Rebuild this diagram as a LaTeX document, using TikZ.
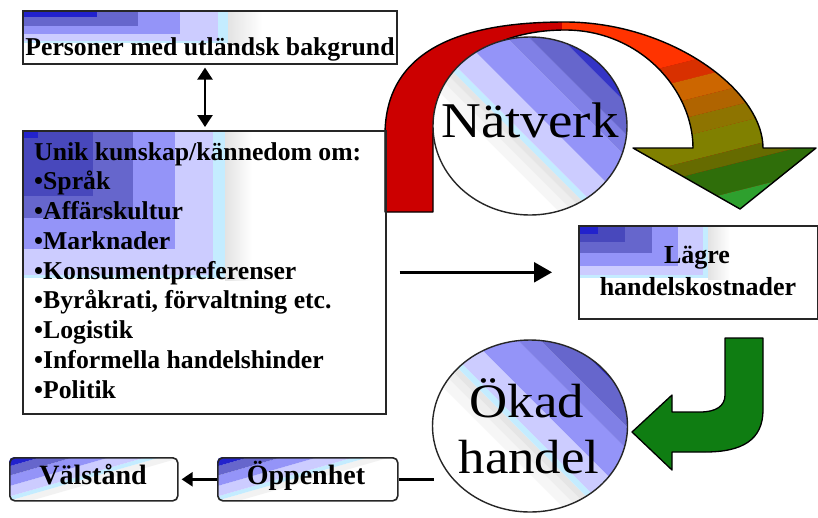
\documentclass[tikz,border=0pt]{standalone}
\usepackage{fontspec}
\setmainfont{Liberation Serif}
\newfontfamily\boxfont{Liberation Serif}
\newfontfamily\circfont[FakeStretch=1.1]{Liberation Serif}
\newfontfamily\rbfont{Liberation Serif}
\usetikzlibrary{shapes.geometric,arrows.meta}
\definecolor{bA}{HTML}{2222CC}
\definecolor{bB}{HTML}{4848BC}
\definecolor{bC}{HTML}{6666CC}
\definecolor{bD}{HTML}{9494F8}
\definecolor{bDD}{HTML}{8080E6}
\definecolor{bE}{HTML}{CCCCFF}
\definecolor{cyanL}{HTML}{C4ECFF}
\definecolor{cA}{HTML}{3434C6}
\definecolor{rDark}{HTML}{CC0000}
\definecolor{g0}{HTML}{FF3300}
\definecolor{g1}{HTML}{D83000}
\definecolor{g2}{HTML}{CC6600}
\definecolor{g3}{HTML}{B06400}
\definecolor{g4}{HTML}{8E7400}
\definecolor{g5}{HTML}{808000}
\definecolor{g6}{HTML}{666B00}
\definecolor{g7}{HTML}{2F6E0A}
\definecolor{g8}{HTML}{2EA02E}
\definecolor{hook}{HTML}{0F7D12}
\newcommand\circstripes{%
 \fill[gray!7] (-40,-200) rectangle (-30,200);
 \fill[gray!13] (-30,-200) rectangle (-22,200);
 \fill[gray!20] (-22,-200) rectangle (-16,200);
 \fill[cyanL] (-16,-200) rectangle (-10,200);
 \fill[bE] (-10,-200) rectangle (14,200);
 \fill[bD] (14,-200) rectangle (46,200);
 \fill[bDD] (46,-200) rectangle (62,200);
 \fill[bC] (62,-200) rectangle (84,200);
 \fill[cA] (84,-200) rectangle (200,200);}
\newcommand\roundstripes{%
 \fill[gray!10] (-48,-300) rectangle (-42,300);
 \fill[cyanL] (-42,-300) rectangle (-38,300);
 \fill[bE] (-38,-300) rectangle (-28,300);
 \fill[bD] (-28,-300) rectangle (-18,300);
 \fill[bC] (-18,-300) rectangle (-9,300);
 \fill[bA] (-9,-300) rectangle (20,300);}
\begin{document}
\begin{tikzpicture}[x=1pt,y=-1pt,
  frame/.style={draw=black!85, line width=1.6pt, inner sep=0pt, anchor=north west},
  rframe/.style={frame, rounded corners=5pt},
  circ/.style={draw=black!85, line width=1.4pt, ellipse, inner sep=0pt},
  txt/.style={inner sep=0pt, font=\boxfont\bfseries\fontsize{25.7}{30}\selectfont},
  ltxt/.style={inner sep=0pt, font=\boxfont\bfseries\fontsize{26}{30}\selectfont},
  btxt/.style={inner sep=0pt, font=\rbfont\bfseries\fontsize{28}{30}\selectfont},
  ctxt/.style={inner sep=0pt, font=\circfont\fontsize{50}{50}\selectfont},
  otxt/.style={inner sep=0pt, font=\circfont\fontsize{48}{50}\selectfont},
  conn/.style={draw=black, line width=2.4pt},
  outline/.style={draw=black, line width=1.4pt, line join=round}]
\useasboundingbox (0,0) rectangle (818,517);
\fill[white] (0,0) rectangle (818,517);

% ---------- big arch arrow ----------
\def\archpath{(385,212) -- (385,135) .. controls (385,45) and (470,22) .. (565,22) .. controls (670,22) and (763,90) .. (763,148) -- (816,148) -- (740,209) -- (633,148) -- (693,148) .. controls (693,90) and (640,30) .. (565,30) .. controls (490,30) and (433,70) .. (433,140) -- (433,212) -- cycle}
\fill[rDark] \archpath;
\begin{scope}
 \clip \archpath;
 \foreach \c/\a/\b in {g0/-200/58, g1/58/76, g2/76/96, g3/96/114, g4/114/132, g5/132/158, g6/158/172, g7/172/200, g8/200/320}
   \fill[\c] (562,\a+35) -- (820,\a-30) -- (820,\b-30) -- (562,\b+35) -- cycle;
\end{scope}
\draw[outline] \archpath;

% ---------- Natverk circle ----------
\begin{scope}
 \clip (530,126) ellipse [x radius=97, y radius=89];
 \fill[white] (400,0) rectangle (660,260);
 \begin{scope}[shift={(530,126)}, rotate=45]\circstripes\end{scope}
\end{scope}
\node[circ, minimum width=194pt, minimum height=178pt] (natverk) at (530,126) {};
\node[ctxt, anchor=base] (nattext) at (530,137) {Nätverk};

% ---------- Personer box ----------
\shade[left color=gray!22, right color=white] (228,10) rectangle (262,45);
\fill[cyanL] (22,10) rectangle (228,43);
\fill[bE] (22,10) rectangle (218,41);
\fill[bD] (22,10) rectangle (180,34);
\fill[bC] (22,10) rectangle (138,26);
\fill[bA] (22,10) rectangle (97,17);
\node[frame, minimum width=374pt, minimum height=53pt] (pers) at (22,10) {};
\node[txt, anchor=base] (perstext) at (210,55) {Personer med utländsk bakgrund};

% ---------- list box ----------
\shade[left color=gray!22, right color=white] (225,130) rectangle (252,280);
\fill[cyanL] (22,130) rectangle (225,278);
\fill[bE] (22,130) rectangle (213,275);
\fill[bD] (22,130) rectangle (175,249);
\fill[bC] (22,130) rectangle (133,218);
\fill[bB] (22,130) rectangle (93,196);
\fill[bA] (22,130) rectangle (38,138);
\node[frame, minimum width=363pt, minimum height=283pt] (list) at (22,130) {};
\foreach \txtline [count=\i from 0] in {Unik kunskap/kännedom om:, •Språk, •Affärskultur, •Marknader, •Konsumentpreferenser, {•Byråkrati, förvaltning etc.}, •Logistik, •Informella handelshinder, •Politik}
  \node[txt, anchor=base west] (item\i) at (34,160+29.75*\i) {\txtline};

% ---------- Lagre box ----------
\shade[left color=gray!22, right color=white] (708,225) rectangle (730,279);
\fill[cyanL] (578,225) rectangle (708,278);
\fill[bE] (578,225) rectangle (703,275);
\fill[bD] (578,225) rectangle (678,266);
\fill[bC] (578,225) rectangle (652,253);
\fill[bB] (578,225) rectangle (625,242);
\fill[bA] (578,225) rectangle (598,234);
\node[frame, minimum width=239pt, minimum height=93pt] (lagre) at (578,225) {};
\node[ltxt, anchor=base] (lag1) at (697,263) {Lägre};
\node[ltxt, anchor=base] (lag2) at (698,295) {handelskostnader};

% ---------- green hook arrow ----------
\fill[hook, draw=black, line width=1.3pt, line join=round]
  (725,338) -- (763,338) -- (763,410) .. controls (763,440) and (742,452) .. (705,452)
  -- (672,452) -- (672,470) -- (632,432) -- (672,395) -- (672,412) -- (700,412)
  .. controls (716,412) and (725,406) .. (725,395) -- cycle;

% ---------- Okad circle ----------
\begin{scope}
 \clip (530,426) ellipse [x radius=97.5, y radius=86];
 \fill[white] (400,320) rectangle (660,560);
 \begin{scope}[shift={(530,426)}, rotate=45, xshift=6pt]\circstripes\end{scope}
\end{scope}
\node[circ, minimum width=195pt, minimum height=172pt] (okad) at (530,426) {};
\node[otxt, anchor=base] (okad1) at (527,417) {Ökad};
\node[otxt, anchor=base] (okad2) at (529,473) {handel};

% ---------- bottom boxes ----------
\begin{scope}
 \clip[rounded corners=5pt] (9,457) rectangle (177,500);
 \begin{scope}[shift={(9,457)}, rotate=106]\roundstripes\end{scope}
\end{scope}
\node[rframe, minimum width=168pt, minimum height=43pt] (valst) at (9,457) {};
\node[btxt, anchor=base] (valtext) at (93,484) {Välstånd};
\begin{scope}
 \clip[rounded corners=5pt] (217,457) rectangle (397,500);
 \begin{scope}[shift={(217,457)}, rotate=106]\roundstripes\end{scope}
\end{scope}
\node[rframe, minimum width=180pt, minimum height=43pt] (oppen) at (217,457) {};
\node[btxt, anchor=base] (opptext) at (306,484) {Öppenhet};

% ---------- connectors ----------
\coordinate (dbx) at (205,0);
\draw[conn, {Triangle[width=15pt,length=12pt]}-{Triangle[width=15pt,length=12pt]}]
  ([yshift=-3pt]pers.south -| dbx) -- ([yshift=3pt]list.north -| dbx);
\draw[conn, -{Triangle[width=20pt,length=18pt]}]
  ([xshift=13pt]list.east) -- ([xshift=-26pt]lagre.west);
\draw[conn, -{Triangle[width=14pt,length=11pt]}]
  (oppen.west) -- ([xshift=3pt]valst.east);
\coordinate (okl) at ([xshift=2pt]okad.west);
\draw[conn] (oppen.east) -- (okl |- oppen.east);
\end{tikzpicture}
\end{document}
